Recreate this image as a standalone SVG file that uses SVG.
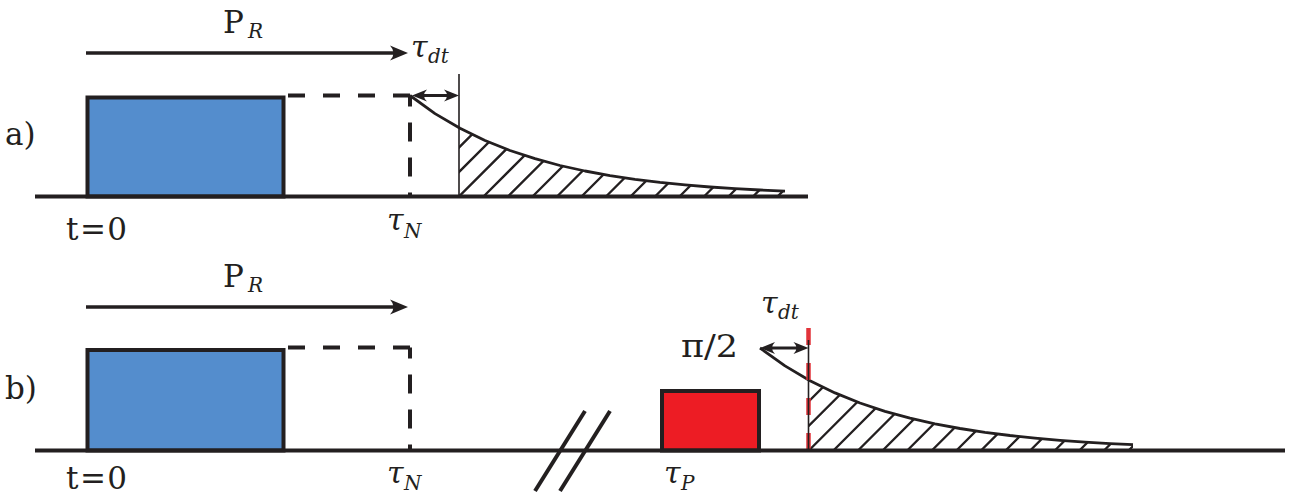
<svg xmlns="http://www.w3.org/2000/svg" width="1290" height="495" viewBox="0 0 1290 495">
<style>
.base{stroke:#231f20;stroke-width:4;fill:none}
.box{stroke:#231f20;stroke-width:4}
.dash{stroke:#231f20;stroke-width:4;fill:none}
.arr{stroke:#231f20;stroke-width:3.6;fill:none}
.darr{stroke:#231f20;stroke-width:2.8;fill:none}
.curve{stroke:#231f20;stroke-width:2.8;fill:none;stroke-linejoin:round}
.hatch{stroke:#231f20;stroke-width:2.3}
.thin{stroke:#231f20;stroke-width:1.6}
.lbl{font-family:'DejaVu Serif',serif;fill:#231f20}
.main{font-size:31px}
.sub{font-size:20px;font-style:italic}
.tau{font-size:30px;font-style:italic}
</style>
<defs>
<marker id="head" markerUnits="userSpaceOnUse" viewBox="-20 -9 22 18" markerWidth="22" markerHeight="18" refX="-9" refY="0" orient="auto-start-reverse">
<path d="M0,0 L-18,-7.5 Q-11,0 -18,7.5 Z" fill="#231f20"/>
</marker>
<marker id="shead" markerUnits="userSpaceOnUse" viewBox="-17 -8 19 16" markerWidth="19" markerHeight="16" refX="-7" refY="0" orient="auto-start-reverse">
<path d="M0,0 L-15,-6 Q-9,0 -15,6 Z" fill="#231f20"/>
</marker>
<clipPath id="clipA">
<path d="M459,128.8 L460,128.3 L485,140.5 L510,150.5 L535,158.7 L560,165.5 L585,171 L610,175.6 L635,179.3 L660,182.4 L685,184.9 L710,187 L735,188.7 L760,190 L785,191.2 L785,196.5 L459,196.5 Z"/>
</clipPath>
<clipPath id="clipB">
<path d="M808.5,380 L810,380.7 L835,392.9 L860,403 L885,411.3 L910,418.2 L935,423.8 L960,428.5 L985,432.3 L1010,435.5 L1035,438.1 L1060,440.3 L1085,442.1 L1110,443.6 L1133,444.7 L1133,450.5 L808.5,450.5 Z"/>
</clipPath>
</defs>

<!-- Panel a -->
<g id="panel-a-label"><text class="lbl main" x="5" y="145">a)</text></g>
<g id="a-pulse"><rect class="box" x="87.5" y="97.5" width="196" height="99" fill="#548dcd"/></g>
<g id="a-free"><path class="dash" d="M410,95.5 H284" stroke-dasharray="17 18"/><path class="dash" d="M410,95.5 V196.5" stroke-dasharray="19 16" stroke-dashoffset="8"/></g>
<g id="a-echo">
<g clip-path="url(#clipA)">
<path class="hatch" d="M385.5,196.5 l120,-120 M410,196.5 l120,-120 M434.5,196.5 l120,-120 M459,196.5 l120,-120 M483.5,196.5 l120,-120 M508,196.5 l120,-120 M532.5,196.5 l120,-120 M557,196.5 l120,-120 M581.5,196.5 l120,-120 M606,196.5 l120,-120 M630.5,196.5 l120,-120 M655,196.5 l120,-120 M679.5,196.5 l120,-120 M704,196.5 l120,-120 M728.5,196.5 l120,-120 M753,196.5 l120,-120 M777.5,196.5 l120,-120"/>
</g>
<path class="curve" d="M410,95.5 L435,113.6 L460,128.3 L485,140.5 L510,150.5 L535,158.7 L560,165.5 L585,171 L610,175.6 L635,179.3 L660,182.4 L685,184.9 L710,187 L735,188.7 L760,190 L785,191.2"/>
<line class="thin" x1="459" y1="74" x2="459" y2="196.5"/>
</g>
<g id="a-axis"><line class="base" x1="35" y1="196.5" x2="808" y2="196.5"/></g>
<g id="a-labels">
<text class="lbl main" x="223" y="33" font-size="34">P</text><text class="lbl sub" x="248" y="38">R</text>
<text class="lbl tau" x="411" y="57">τ</text><text class="lbl sub" x="428" y="63">dt</text>
<text class="lbl main" x="66" y="240" textLength="61" lengthAdjust="spacing">t=0</text>
<text class="lbl tau" x="387" y="230">τ</text><text class="lbl sub" x="404" y="238">N</text>
</g>

<!-- Panel b -->
<g id="panel-b-label"><text class="lbl main" x="5" y="399">b)</text></g>
<g id="b-pulse"><rect class="box" x="87.5" y="350" width="196" height="100.5" fill="#548dcd"/></g>
<g id="b-free"><path class="dash" d="M410,347.5 H284" stroke-dasharray="17 18"/><path class="dash" d="M410,347.5 V450.5" stroke-dasharray="19 16" stroke-dashoffset="8"/></g>
<g id="b-pi-pulse"><rect class="box" x="662" y="391" width="97" height="59.5" fill="#ed1c24"/></g>
<g id="b-echo">
<g clip-path="url(#clipB)">
<path class="hatch" d="M735,450.5 l120,-120 M759.6,450.5 l120,-120 M784.2,450.5 l120,-120 M808.8,450.5 l120,-120 M833.4,450.5 l120,-120 M858,450.5 l120,-120 M882.6,450.5 l120,-120 M907.2,450.5 l120,-120 M931.8,450.5 l120,-120 M956.4,450.5 l120,-120 M981,450.5 l120,-120 M1005.6,450.5 l120,-120 M1030.2,450.5 l120,-120 M1054.8,450.5 l120,-120 M1079.4,450.5 l120,-120 M1104,450.5 l120,-120 M1128.6,450.5 l120,-120"/>
</g>
<path class="curve" d="M760,348 L785,365.9 L810,380.7 L835,392.9 L860,403 L885,411.3 L910,418.2 L935,423.8 L960,428.5 L985,432.3 L1010,435.5 L1035,438.1 L1060,440.3 L1085,442.1 L1110,443.6 L1133,444.7"/>
<line x1="808.5" y1="328" x2="808.5" y2="450" stroke="#e2333a" stroke-width="4.5" stroke-dasharray="17 18"/>
<line class="thin" x1="808.5" y1="340" x2="808.5" y2="450.5"/>
</g>
<g id="b-axis">
<line class="base" x1="35" y1="450.5" x2="1285" y2="450.5"/>
</g>
<g id="b-break">
<line class="base" x1="535" y1="491" x2="585" y2="411"/>
<line class="base" x1="560" y1="491" x2="610" y2="411"/>
</g>
<g id="b-labels">
<text class="lbl main" x="223" y="287" font-size="34">P</text><text class="lbl sub" x="248" y="292">R</text>
<text class="lbl tau" x="761" y="313">τ</text><text class="lbl sub" x="778" y="319">dt</text>
<text class="lbl main" x="681" y="357" textLength="57" lengthAdjust="spacingAndGlyphs">π/2</text>
<text class="lbl main" x="66" y="489" textLength="61" lengthAdjust="spacing">t=0</text>
<text class="lbl tau" x="387" y="483">τ</text><text class="lbl sub" x="404" y="490">N</text>
<text class="lbl tau" x="664" y="483">τ</text><text class="lbl sub" x="681" y="490">P</text>
</g>

<!-- Connectors -->
<g id="connectors">
<line class="arr" x1="86" y1="53" x2="399" y2="53" marker-end="url(#head)"/>
<line class="darr" x1="419" y1="95.5" x2="452" y2="95.5" marker-start="url(#shead)" marker-end="url(#shead)"/>
<line class="arr" x1="86" y1="307" x2="399" y2="307" marker-end="url(#head)"/>
<line class="darr" x1="767" y1="348" x2="801.5" y2="348" marker-start="url(#shead)" marker-end="url(#shead)"/>
</g>
</svg>
